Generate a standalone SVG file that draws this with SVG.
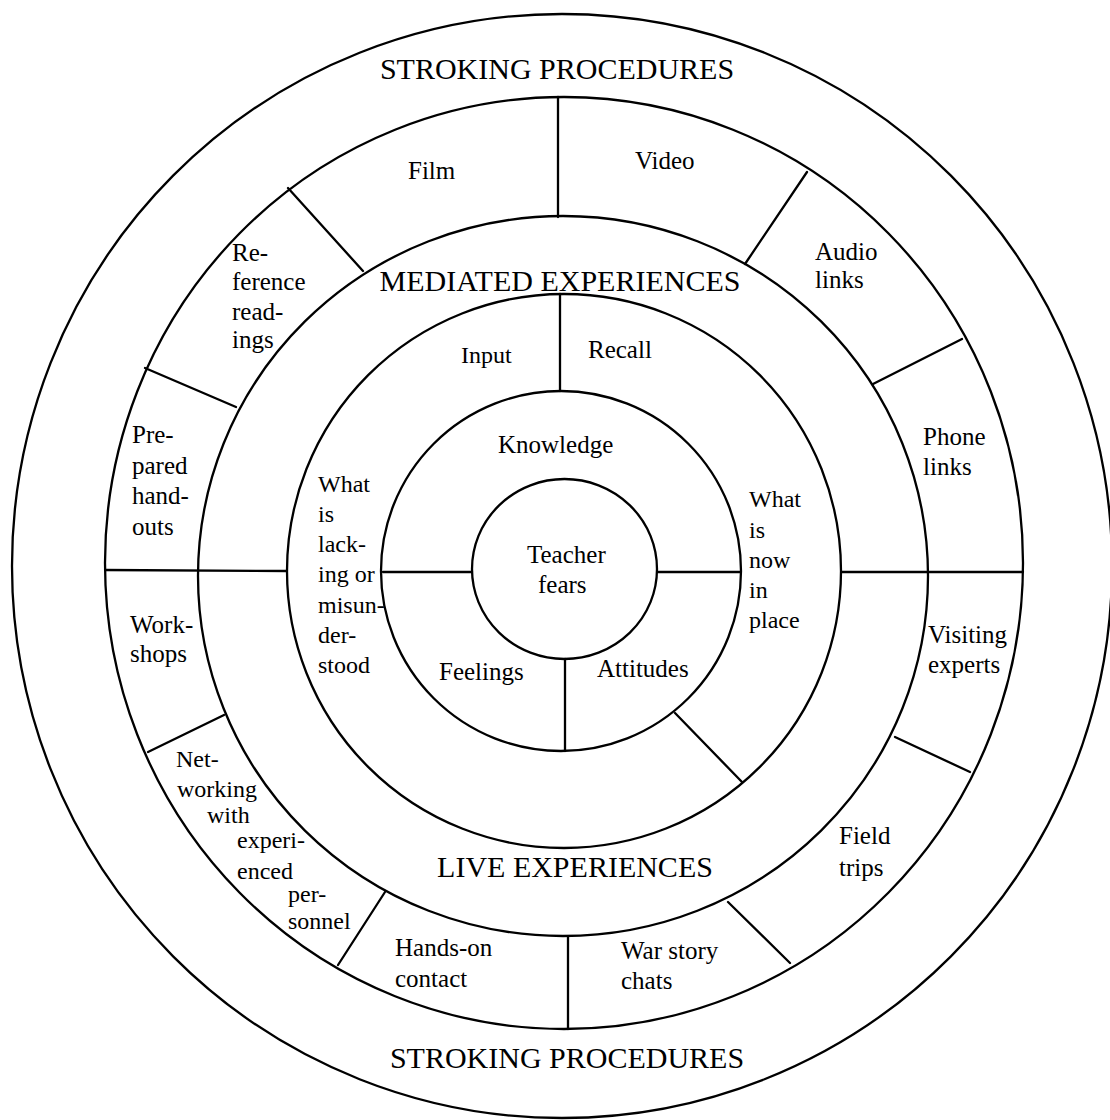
<svg xmlns="http://www.w3.org/2000/svg" width="1110" height="1120" viewBox="0 0 1110 1120">
<style>
  .ring { fill: none; stroke: #000; stroke-width: 2.3; }
  .div { stroke: #000; stroke-width: 2.3; stroke-linecap: round; }
  text { font-family: "Liberation Serif", "Times New Roman", serif; fill: #000; }
  .big { font-size: 30px; }
  .lbl { font-size: 25px; }
  .sm { font-size: 24px; }
</style>
<rect x="0" y="0" width="1110" height="1120" fill="#fff"/>

<g id="rings">
  <ellipse class="ring" cx="562" cy="566" rx="550" ry="552"/>
  <ellipse class="ring" cx="564" cy="563" rx="459" ry="466"/>
  <ellipse class="ring" cx="563" cy="576" rx="365" ry="360"/>
  <circle class="ring" cx="564" cy="571" r="277"/>
  <circle class="ring" cx="561" cy="571" r="180"/>
  <ellipse class="ring" cx="564.5" cy="569" rx="92.5" ry="90"/>
</g>

<g id="connectors">
  <line class="div" x1="558" y1="97" x2="558" y2="217"/>
  <line class="div" x1="288" y1="188" x2="363" y2="271"/>
  <line class="div" x1="145" y1="368" x2="236" y2="407"/>
  <line class="div" x1="105" y1="570" x2="287" y2="571"/>
  <line class="div" x1="148" y1="752" x2="224" y2="715"/>
  <line class="div" x1="385" y1="892" x2="338" y2="965"/>
  <line class="div" x1="568" y1="937" x2="568" y2="1029"/>
  <line class="div" x1="728" y1="902" x2="790" y2="963"/>
  <line class="div" x1="895" y1="737" x2="970" y2="772"/>
  <line class="div" x1="842" y1="572" x2="1023" y2="572"/>
  <line class="div" x1="873" y1="384" x2="962" y2="339"/>
  <line class="div" x1="745" y1="264" x2="807" y2="172"/>
  <line class="div" x1="560" y1="294" x2="560" y2="391"/>
  <line class="div" x1="675" y1="713" x2="742" y2="782"/>
  <line class="div" x1="383" y1="572" x2="472" y2="572"/>
  <line class="div" x1="658" y1="572" x2="740" y2="572"/>
  <line class="div" x1="565" y1="659" x2="565" y2="751"/>
</g>

<g id="stroking-top"><text class="big" x="557" y="79" text-anchor="middle">STROKING PROCEDURES</text></g>
<g id="stroking-bottom"><text class="big" x="567" y="1068" text-anchor="middle">STROKING PROCEDURES</text></g>
<g id="mediated"><text class="big" x="560" y="291" text-anchor="middle">MEDIATED EXPERIENCES</text></g>
<g id="live"><text class="big" x="575" y="877" text-anchor="middle">LIVE EXPERIENCES</text></g>

<g id="film"><text class="lbl" x="408" y="179" font-size="23">Film</text></g>
<g id="video"><text class="lbl" x="635" y="169">Video</text></g>
<g id="audio-links"><text class="lbl" x="815" y="260">Audio</text><text class="lbl" x="815" y="288">links</text></g>
<g id="phone-links"><text class="lbl" x="923" y="445">Phone</text><text class="lbl" x="923" y="475">links</text></g>
<g id="visiting-experts"><text class="lbl" x="928" y="643">Visiting</text><text class="lbl" x="928" y="673">experts</text></g>
<g id="field-trips"><text class="lbl" x="839" y="844">Field</text><text class="lbl" x="839" y="876">trips</text></g>
<g id="war-story-chats"><text class="lbl" x="621" y="959">War story</text><text class="lbl" x="621" y="989">chats</text></g>
<g id="hands-on-contact"><text class="lbl" x="395" y="956">Hands-on</text><text class="lbl" x="395" y="987">contact</text></g>
<g id="networking">
  <text class="sm" x="176" y="767">Net-</text>
  <text class="sm" x="177" y="797">working</text>
  <text class="sm" x="207" y="823">with</text>
  <text class="sm" x="237" y="848">experi-</text>
  <text class="sm" x="237" y="879">enced</text>
  <text class="sm" x="288" y="902">per-</text>
  <text class="sm" x="288" y="929">sonnel</text>
</g>
<g id="workshops"><text class="lbl" x="130" y="633">Work-</text><text class="lbl" x="130" y="662">shops</text></g>
<g id="prepared-handouts">
  <text class="lbl" x="132" y="443">Pre-</text>
  <text class="lbl" x="132" y="474">pared</text>
  <text class="lbl" x="132" y="504">hand-</text>
  <text class="lbl" x="132" y="535">outs</text>
</g>
<g id="reference-readings">
  <text class="lbl" x="232" y="261">Re-</text>
  <text class="lbl" x="232" y="290">ference</text>
  <text class="lbl" x="232" y="320">read-</text>
  <text class="lbl" x="232" y="348">ings</text>
</g>

<g id="input"><text class="sm" x="461" y="363">Input</text></g>
<g id="recall"><text class="lbl" x="588" y="358">Recall</text></g>
<g id="lacking">
  <text class="sm" x="318" y="492">What</text>
  <text class="sm" x="318" y="522">is</text>
  <text class="sm" x="318" y="552">lack-</text>
  <text class="sm" x="318" y="582">ing or</text>
  <text class="sm" x="318" y="613">misun-</text>
  <text class="sm" x="318" y="643">der-</text>
  <text class="sm" x="318" y="673">stood</text>
</g>
<g id="in-place">
  <text class="sm" x="749" y="507">What</text>
  <text class="sm" x="749" y="538">is</text>
  <text class="sm" x="749" y="568">now</text>
  <text class="sm" x="749" y="598">in</text>
  <text class="sm" x="749" y="628">place</text>
</g>
<g id="knowledge"><text class="lbl" x="498" y="453">Knowledge</text></g>
<g id="feelings"><text class="lbl" x="439" y="680">Feelings</text></g>
<g id="attitudes"><text class="lbl" x="597" y="677">Attitudes</text></g>
<g id="teacher-fears"><text class="lbl" x="527" y="563">Teacher</text><text class="lbl" x="538" y="593">fears</text></g>
</svg>
